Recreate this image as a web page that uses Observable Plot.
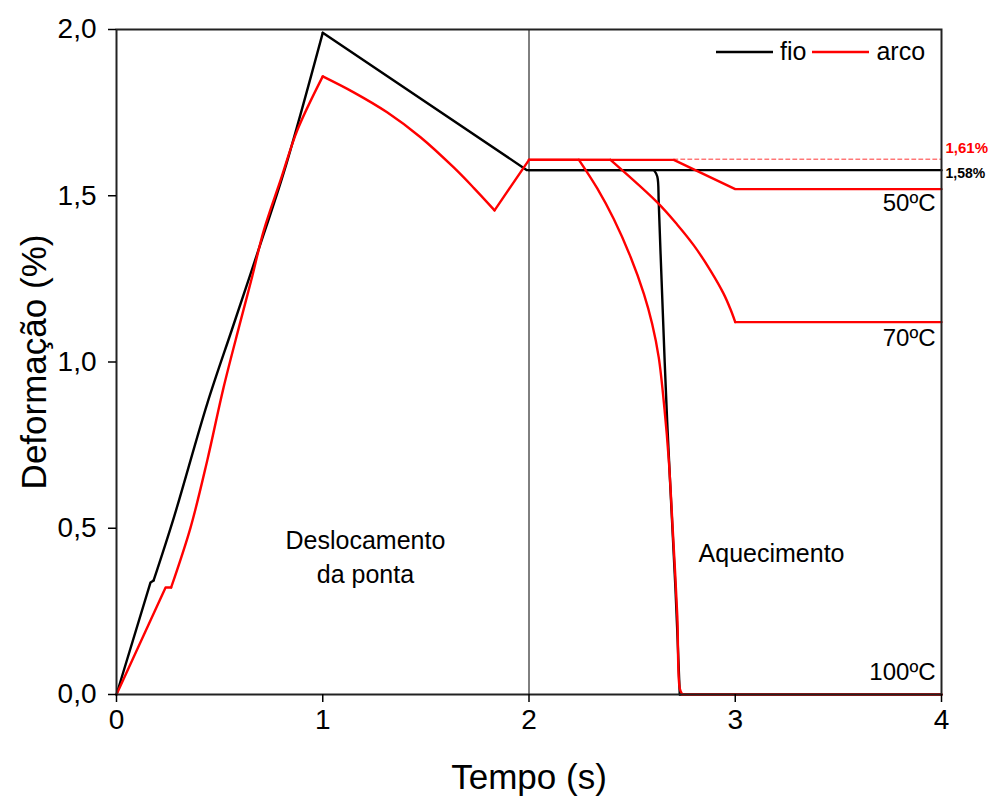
<!DOCTYPE html>
<html><head><meta charset="utf-8">
<script src="https://cdn.jsdelivr.net/npm/d3@7"></script>
<script src="https://cdn.jsdelivr.net/npm/@observablehq/plot@0.6"></script>
<style>
body{margin:0;background:#fff;font-family:"Liberation Sans",Arial,sans-serif}
#wrap{position:relative;width:991px;height:801px}
#legend{position:absolute;left:716px;top:37px;display:flex;align-items:center;font-size:25px;color:#000}
#legend span{margin:0 6px 0 7px}
</style>
</head><body><div id="wrap"><div id="chart"></div>
<div id="legend"><svg width="57" height="4"><line x1="0" y1="2" x2="57" y2="2" stroke="#000" stroke-width="2.5"/></svg><span>fio</span><svg width="57" height="4"><line x1="0" y1="2" x2="57" y2="2" stroke="#ff0000" stroke-width="2.5"/></svg><span>arco</span></div>
</div>
<script>
// fio (wire): displacement phase + constant at 50 ºC / 70 ºC
const fioT = [0, 0.165, 0.18, 0.278, 0.44, 0.561, 0.69, 0.816, 1.0, 1.99, 4.0];
const fioY = [0, 0.337, 0.343, 0.532, 0.875, 1.10, 1.34, 1.58, 1.99, 1.577, 1.577];
// fio at 100 ºC
const fio100T = [2.0, 2.606, 2.622, 2.629, 2.638, 2.670, 2.710, 2.731, 4.0];
const fio100Y = [1.577, 1.577, 1.558, 1.48, 1.325, 0.82, 0.32, 0, 0];
// arco (arch): displacement phase
const arcoT = [0, 0.238, 0.265, 0.359, 0.44, 0.519, 0.596, 0.653, 0.714, 0.795, 0.876, 1.0, 1.15, 1.312, 1.474, 1.635, 1.733, 1.833, 2.0];
const arcoY = [0, 0.322, 0.322, 0.502, 0.704, 0.923, 1.11, 1.245, 1.395, 1.546, 1.696, 1.859, 1.811, 1.751, 1.676, 1.585, 1.523, 1.456, 1.608];
// arco heating at 50 ºC
const arco50T = [2.0, 2.702, 3.0, 4.0];
const arco50Y = [1.608, 1.608, 1.52, 1.52];
// arco heating at 70 ºC
const arco70T = [2.0, 2.395, 2.622, 2.719, 2.8, 2.88, 2.944, 2.976, 3.0, 4.0];
const arco70Y = [1.608, 1.608, 1.48, 1.413, 1.35, 1.275, 1.205, 1.16, 1.12, 1.12];
// arco heating at 100 ºC
const arco100T = [2.0, 2.242, 2.331, 2.411, 2.493, 2.557, 2.597, 2.629, 2.657, 2.678, 2.697, 2.719, 2.731, 2.743, 4.0];
const arco100Y = [1.608, 1.608, 1.522, 1.43, 1.315, 1.205, 1.115, 1.014, 0.858, 0.703, 0.495, 0.236, 0.018, 0, 0];
// reference level 1,61 %
const refT = [2.702, 4.0];
const refY = [1.61, 1.61];

const xTicks = [0, 1, 2, 3, 4];
const yTicks = [0, 0.5, 1.0, 1.5, 2.0];
const phaseSplit = [2];

const tempLabels = ["50ºC", "70ºC", "100ºC"];
const tempLabelY = [1.477, 1.071, 0.066];
const levelLabels = ["1,61%", "1,58%"];
const levelY = [1.61, 1.577];
const phaseLabels = ["Deslocamento\nda ponta", "Aquecimento"];
const phaseX = [1.207, 3.176];
const phaseY = [0.42, 0.43];

const rows = (T, Y) => T.map((t, i) => ({t, y: Y[i]}));
// draw a series piecewise: pieces = [start index, end index, smooth?]
function series(T, Y, stroke, pieces) {
  return pieces.map(([a, b, smooth]) =>
    Plot.line(rows(T.slice(a, b + 1), Y.slice(a, b + 1)), {
      x: "t", y: "y", stroke, strokeWidth: 2.4, strokeLinejoin: "round", strokeLinecap: "round",
      curve: smooth ? "catmull-rom" : "linear"
    }));
}

const chart = Plot.plot({
  width: 991, height: 801,
  marginLeft: 116, marginRight: 50, marginTop: 29, marginBottom: 107,
  x: {domain: [0, 4]},
  y: {domain: [0, 2]},
  style: {fontFamily: "'Liberation Sans', Arial, sans-serif", fontSize: "25px", color: "#000", background: "#fff"},
  marks: [
    Plot.ruleX(phaseSplit, {stroke: "#000", strokeWidth: 1}),
    Plot.line(rows(refT, refY), {x: "t", y: "y", stroke: "#ff0000", strokeWidth: 1, strokeDasharray: "4,3", strokeOpacity: 0.8}),
    ...series(fioT, fioY, "#000", [[0, 2, false], [2, 8, true], [8, 10, false]]),
    ...series(fio100T, fio100Y, "#000", [[0, 1, false], [1, 7, true], [7, 8, false]]),
    ...series(arco50T, arco50Y, "#ff0000", [[0, 3, false]]),
    ...series(arco70T, arco70Y, "#ff0000", [[0, 1, false], [1, 8, true], [8, 9, false]]),
    ...series(arco100T, arco100Y, "#ff0000", [[0, 1, false], [1, 13, true], [13, 14, false]]),
    ...series(arcoT, arcoY, "#ff0000", [[0, 2, false], [2, 11, true], [11, 17, true], [17, 18, false]]),
    Plot.frame({stroke: "#222", strokeWidth: 2}),
    Plot.axisX({ticks: xTicks, tickSize: 8, tickPadding: 7, fontSize: 28, label: null, tickFormat: d => String(d), strokeWidth: 1.5}),
    Plot.axisY({ticks: yTicks, tickSize: 8, tickPadding: 12, fontSize: 28, label: null, tickFormat: d => d.toFixed(1).replace(".", ","), strokeWidth: 1.5}),
    Plot.text(["Deformação (%)"], {frameAnchor: "left", textAnchor: "middle", lineAnchor: "middle", dx: -82, rotate: -90, fontSize: 35}),
    Plot.text(["Tempo (s)"], {frameAnchor: "bottom", textAnchor: "middle", lineAnchor: "middle", dy: 83, fontSize: 35}),
    Plot.text(tempLabels, {x: () => 4, y: (d, i) => tempLabelY[i], text: d => d, textAnchor: "end", dx: -6, fontSize: 24}),
    Plot.text([levelLabels[0]], {x: () => 4, y: () => levelY[0], text: d => d, textAnchor: "start", dx: 4, dy: -11, fontWeight: "bold", fontSize: 15, fill: "#ff0000"}),
    Plot.text([levelLabels[1]], {x: () => 4, y: () => levelY[1], text: d => d, textAnchor: "start", dx: 4, dy: 3, fontWeight: "bold", fontSize: 14, fill: "#000"}),
    Plot.text(phaseLabels, {x: (d, i) => phaseX[i], y: (d, i) => phaseY[i], text: d => d, fontSize: 25, lineHeight: 1.36})
  ]
});
document.getElementById("chart").appendChild(chart);
</script>
</body></html>
